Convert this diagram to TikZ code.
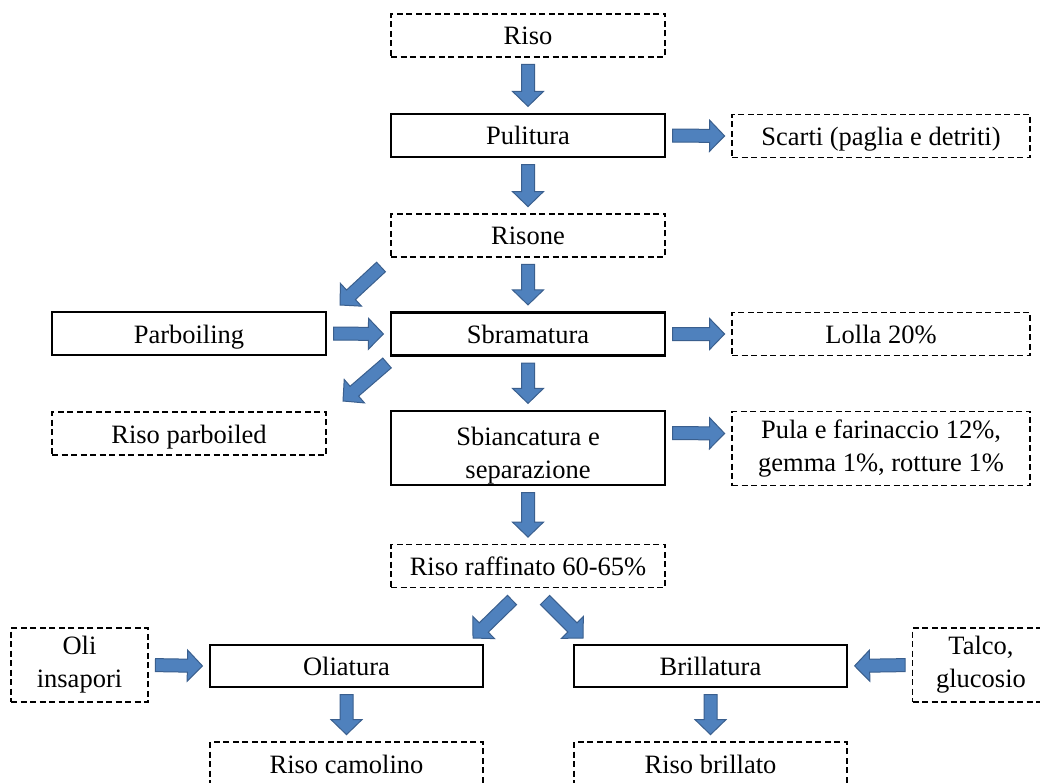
\documentclass[tikz,border=0pt]{standalone}
\usepackage{fontspec}
\setmainfont{Liberation Serif}
\newfontfamily\labelface{Liberation Serif}
\usetikzlibrary{calc}
\definecolor{arrowfill}{HTML}{4F81BD}
\definecolor{arrowedge}{HTML}{3A5F8E}
% gap left between a block arrow and the boxes it joins
\def\bagap{6.5pt}
\tikzset{
  ba gap/.code={\def\bagap{#1}},
  boxbase/.style={minimum height=43pt, inner sep=0pt, align=center,
    text height=24pt, text depth=5pt,
    font=\labelface\fontsize{26.5}{33}\selectfont},
  twolines/.style={text height={}, text depth={}, minimum height=74pt},
  solidbox/.style={boxbase, draw, line width=2.2pt},
  dashbox/.style={boxbase, draw, line width=1.8pt, dash pattern=on 6pt off 3.5pt},
  % filled block arrow drawn as a polygon between the two end points
  blockarrow/.style={draw=arrowedge, fill=arrowfill, line width=1pt, line join=miter,
    to path={let \p1=($(\tikztostart)!\bagap!(\tikztotarget)$),
                 \p2=($(\tikztotarget)!\bagap!(\tikztostart)$),
                 \p3=($(\p2)!15pt!(\p1)$) in
      ($(\p1)!6.5pt!90:(\p2)$) -- ($(\p3)!6.5pt!90:(\p2)$) -- ($(\p3)!15.5pt!90:(\p2)$)
      -- (\p2) -- ($(\p3)!15.5pt!-90:(\p2)$) -- ($(\p3)!6.5pt!-90:(\p2)$)
      -- ($(\p1)!6.5pt!-90:(\p2)$) -- cycle}}
}
\begin{document}
\begin{tikzpicture}[x=1pt, y=-1pt]
\useasboundingbox (0,0) rectangle (1040,783);
\fill[white] (0,0) rectangle (1040,783);

% main column
\node[dashbox, minimum width=274pt] (riso) at (528,35.5) {Riso};
\node[solidbox, minimum width=274pt] (pul) at (528,135.5) {Pulitura};
\node[dashbox, minimum width=274pt] (risone) at (528,235.5) {Risone};
\node[solidbox, minimum width=274pt] (sbram) at (528,334) {Sbramatura};
\node[solidbox, twolines, minimum width=274pt] (sbianc) at (528,448) {\rule{0pt}{33pt}Sbiancatura e\\separazione};
\node[dashbox, minimum width=274pt] (raff) at (528,566) {Riso raffinato 60-65\%};

% by-products on the right
\node[dashbox, minimum width=298pt] (scarti) at (881,136) {Scarti (paglia e detriti)};
\node[dashbox, minimum width=298pt] (lolla) at (881,334) {Lolla 20\%};
\node[dashbox, twolines, minimum width=298pt] (pula) at (881,448.5) {Pula e farinaccio 12\%,\\gemma 1\%, rotture 1\%};

% parboiling branch
\node[solidbox, minimum width=274pt] (parb) at (189,333.5) {Parboiling};
\node[dashbox, minimum width=274pt] (rparb) at (189,433.5) {Riso parboiled};

% finishing
\node[dashbox, twolines, minimum width=137pt] (oli) at (79.5,665) {Oli\\insapori};
\node[solidbox, minimum width=273pt, minimum height=42pt] (olia) at (346.5,666) {Oliatura};
\node[solidbox, minimum width=273pt, minimum height=42pt] (brill) at (710.5,666) {Brillatura};
\node[dashbox, twolines, minimum width=137pt] (talco) at (981,665) {Talco,\\glucosio};
\node[dashbox, minimum width=273pt] (camol) at (346.5,763.5) {Riso camolino};
\node[dashbox, minimum width=273pt] (brillato) at (710.5,763.5) {Riso brillato};

% ends of the slanted arrows
\coordinate (pbinA) at (381,267);  \coordinate (pbinB) at (340,305);
\coordinate (pboutA) at (387,363); \coordinate (pboutB) at (343,401);
\coordinate (olA) at (512,600);    \coordinate (olB) at (473,638);
\coordinate (brA) at (545,600);    \coordinate (brB) at (583,638);

% flow arrows
\draw[blockarrow] (riso.south) to (pul.north);
\draw[blockarrow] (pul.south) to (risone.north);
\draw[blockarrow] (risone.south) to (sbram.north);
\draw[blockarrow] (sbram.south) to (sbianc.north);
\draw[blockarrow] (sbianc.south) to (raff.north);
\draw[blockarrow] (pul.east) to (scarti.west);
\draw[blockarrow] (sbram.east) to (lolla.west);
\draw[blockarrow] ([yshift=15pt]sbianc.east) to ([yshift=15pt]pula.west);
\draw[blockarrow] (parb.east) to (sbram.west);
\draw[blockarrow, ba gap=0pt] (pbinA) to (pbinB);
\draw[blockarrow, ba gap=0pt] (pboutA) to (pboutB);
\draw[blockarrow, ba gap=0pt] (olA) to (olB);
\draw[blockarrow, ba gap=0pt] (brA) to (brB);
\draw[blockarrow] (oli.east) to (olia.west);
\draw[blockarrow] (talco.west) to (brill.east);
\draw[blockarrow] (olia.south) to (camol.north);
\draw[blockarrow] (brill.south) to (brillato.north);
\end{tikzpicture}
\end{document}
